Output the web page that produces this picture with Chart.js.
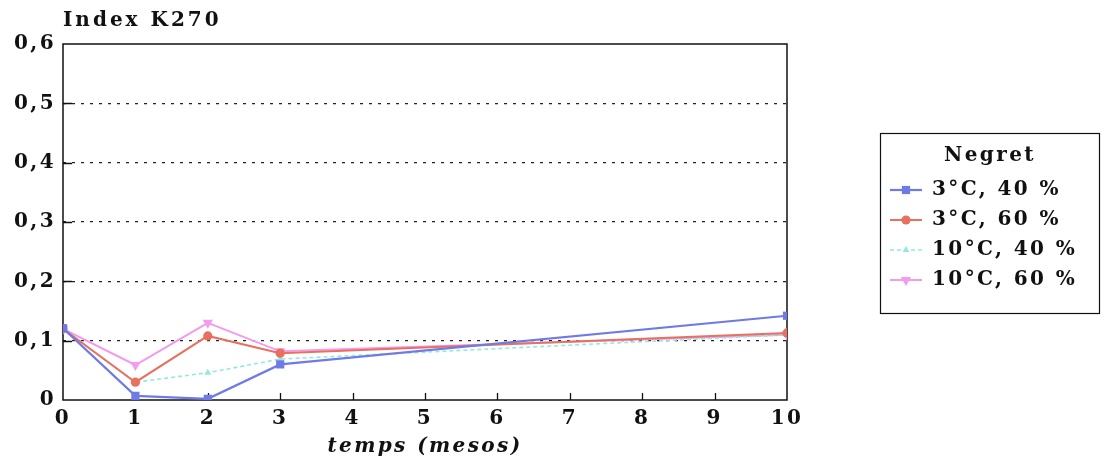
<!DOCTYPE html>
<html>
<head>
<meta charset="utf-8">
<title>Index K270 – Negret</title>
<script src="https://cdn.jsdelivr.net/npm/chart.js@4.4.1/dist/chart.umd.min.js"></script>
<style>
  html, body { margin: 0; padding: 0; background: #ffffff; }
  canvas { display: block; }
</style>
</head>
<body>
<canvas id="chart" width="1106" height="462"></canvas>
<script>
// Sampling times (months)
const months = [0, 1, 2, 3, 10];
const xTickLabels = ['0', '1', '2', '3', '4', '5', '6', '7', '8', '9', '10'];
const yTickLabels = ['0', '0,1', '0,2', '0,3', '0,4', '0,5', '0,6'];

// K270 index per storage condition
const seriesLabels = ['3°C, 40 %', '3°C, 60 %', '10°C, 40 %', '10°C, 60 %'];
const k270_3C_40 = [0.121, 0.007, 0.002, 0.060, 0.142];
const k270_3C_60 = [0.120, 0.030, 0.108, 0.079, 0.113];
const k270_10C_40 = [0.120, 0.030, 0.046, 0.069, 0.110];
const k270_10C_60 = [0.120, 0.059, 0.130, 0.082, 0.110];

const yAxisName = 'Index K270';
const xAxisName = 'temps (mesos)';
const legendTitle = 'Negret';

const seriesStyle = [
  { color: '#6e7be6', point: 'rect',     radius: 5.8, rotation: 0,   width: 2.2, dash: [] },
  { color: '#e8705f', point: 'circle',   radius: 4.6, rotation: 0,   width: 2,   dash: [] },
  { color: '#92eadb', point: 'triangle', radius: 4,   rotation: 0,   width: 1.6, dash: [4, 3] },
  { color: '#f29bef', point: 'triangle', radius: 6,   rotation: 180, width: 2,   dash: [] }
];

const SPACING = '2.4px';
const TITLE_SPACING = '3px';
const FONT_FAMILY = "'DejaVu Serif', serif";
const FONT_SIZE = 20;

// small line + marker swatch for each legend entry
function makeSwatch(st) {
  const c = document.createElement('canvas');
  c.width = 32; c.height = 14;
  const g = c.getContext('2d');
  const cx = 16, cy = 7;
  g.strokeStyle = st.color;
  g.lineWidth = st.width;
  g.setLineDash(st.dash);
  g.beginPath(); g.moveTo(0, cy); g.lineTo(32, cy); g.stroke();
  g.setLineDash([]);
  g.fillStyle = st.color;
  g.beginPath();
  if (st.point === 'rect') {
    const s = st.radius * Math.SQRT1_2;
    g.rect(cx - s, cy - s, 2 * s, 2 * s);
  } else if (st.point === 'circle') {
    g.arc(cx, cy, st.radius, 0, Math.PI * 2);
  } else {
    const r = st.radius, rot = st.rotation * Math.PI / 180;
    for (let k = 0; k < 3; k++) {
      const a = rot - Math.PI / 2 + k * 2 * Math.PI / 3;
      const px = cx + r * Math.cos(a), py = cy + r * Math.sin(a);
      if (k === 0) g.moveTo(px, py); else g.lineTo(px, py);
    }
    g.closePath();
  }
  g.fill();
  return c;
}
const swatches = seriesStyle.map(makeSwatch);

const seriesValues = [k270_3C_40, k270_3C_60, k270_10C_40, k270_10C_60];
const datasets = seriesValues.map((vals, i) => {
  const st = seriesStyle[i];
  return {
    label: seriesLabels[i],
    data: months.map((m, j) => ({ x: m, y: vals[j] })),
    borderColor: st.color,
    backgroundColor: st.color,
    borderWidth: st.width,
    borderDash: st.dash,
    pointStyle: st.point,
    pointRadius: st.radius,
    pointRotation: st.rotation,
    pointBorderWidth: 0,
    pointBackgroundColor: st.color,
    tension: 0,
    xAxisID: 'x',
    yAxisID: 'y'
  };
});

Chart.defaults.font.family = FONT_FAMILY;
Chart.defaults.font.size = FONT_SIZE;
Chart.defaults.font.weight = 'bold';
Chart.defaults.color = '#111';

function applySpacing(chart) {
  if (chart.ctx) chart.ctx.letterSpacing = SPACING;
}

const LEGEND_W = 220;

const layoutHelper = {
  id: 'layoutHelper',
  beforeUpdate(chart) {
    applySpacing(chart);
    const lg = chart.legend;
    if (lg && !lg._fixedWidth) {
      const orig = lg.fit;
      lg.fit = function () { orig.call(this); this.width = LEGEND_W; };
      lg._fixedWidth = true;
    }
  },
  beforeLayout(chart) { applySpacing(chart); },
  beforeDraw(chart) { applySpacing(chart); },
  beforeDatasetsDraw(chart) {
    // plot frame and inward tick marks
    const { ctx, chartArea: a, scales } = chart;
    ctx.save();
    ctx.strokeStyle = '#111';
    ctx.lineWidth = 1.5;
    ctx.setLineDash([]);
    ctx.strokeRect(a.left, a.top, a.right - a.left, a.bottom - a.top);
    ctx.lineWidth = 1.3;
    ctx.beginPath();
    scales.y.ticks.forEach((t, i) => {
      if (i === 0 || i === scales.y.ticks.length - 1) return;
      const py = Math.round(scales.y.getPixelForValue(t.value)) + 0.5;
      ctx.moveTo(a.left, py); ctx.lineTo(a.left + 9, py);
    });
    scales.x.ticks.forEach((t, i) => {
      if (i === 0 || i === scales.x.ticks.length - 1) return;
      const px = Math.round(scales.x.getPixelForValue(t.value)) + 0.5;
      ctx.moveTo(px, a.bottom); ctx.lineTo(px, a.bottom - 7);
    });
    ctx.stroke();
    ctx.restore();
  },
  afterDraw(chart) {
    const { ctx, chartArea: a } = chart;
    ctx.save();
    // y-axis name above the scale
    ctx.letterSpacing = TITLE_SPACING;
    ctx.fillStyle = '#111';
    ctx.font = 'bold ' + FONT_SIZE + 'px ' + FONT_FAMILY;
    ctx.textAlign = 'left';
    ctx.textBaseline = 'middle';
    ctx.fillText(yAxisName, a.left, a.top - 23);
    // legend frame
    const lg = chart.legend;
    const hb = lg.legendHitBoxes;
    if (hb && hb.length) {
      const first = hb[0], last = hb[hb.length - 1];
      const top = Math.round(first.top + first.height / 2 - 57) + 0.5;
      const bottom = Math.round(last.top + last.height / 2 + 33) + 0.5;
      ctx.strokeStyle = '#111';
      ctx.lineWidth = 1.2;
      ctx.strokeRect(Math.round(lg.left) + 0.5, top, Math.round(lg.width) - 1, bottom - top);
    }
    ctx.restore();
  }
};

new Chart(document.getElementById('chart'), {
  type: 'line',
  data: { datasets },
  options: {
    responsive: false,
    animation: false,
    events: [],
    layout: { padding: { top: 44, right: 6, bottom: 0, left: 0 } },
    scales: {
      x: {
        type: 'linear',
        position: 'bottom',
        min: 0,
        max: 10,
        ticks: {
          stepSize: 1,
          autoSkip: false,
          maxRotation: 0,
          padding: 7,
          color: '#111',
          callback: (v, i) => xTickLabels[i]
        },
        grid: { display: false, drawTicks: false },
        border: { display: false },
        title: {
          display: true,
          text: xAxisName,
          color: '#111',
          font: { size: FONT_SIZE, weight: 'bold', style: 'italic' },
          padding: { top: 0, bottom: 3 }
        },
        afterFit(s) { s.height = 62; }
      },
      y: {
        type: 'linear',
        position: 'left',
        min: 0,
        max: 0.6,
        ticks: {
          stepSize: 0.1,
          padding: 7,
          color: '#111',
          callback: (v, i) => yTickLabels[i]
        },
        grid: {
          drawTicks: false,
          lineWidth: 1.2,
          color: (c) => (c.index === 0 || c.index === yTickLabels.length - 1) ? 'rgba(0,0,0,0)' : '#222'
        },
        border: { display: false, dash: [3, 6] },
        afterFit(s) { s.width = 63; }
      },
      gap: {
        type: 'linear',
        position: 'right',
        display: true,
        ticks: { display: false },
        grid: { display: false, drawTicks: false },
        border: { display: false },
        afterFit(s) { s.width = 93; }
      }
    },
    plugins: {
      title: { display: false },
      tooltip: { enabled: false },
      legend: {
        display: true,
        position: 'right',
        align: 'center',
        fullSize: false,
        title: {
          display: true,
          text: legendTitle,
          color: '#111',
          font: { size: FONT_SIZE, weight: 'bold' },
          padding: { top: 2, bottom: 0 }
        },
        labels: {
          usePointStyle: true,
          pointStyleWidth: 32,
          padding: 10,
          color: '#111',
          font: { size: FONT_SIZE, weight: 'bold' },
          generateLabels: (chart) => chart.data.datasets.map((ds, i) => ({
            text: ds.label,
            pointStyle: swatches[i],
            rotation: 0,
            fillStyle: ds.borderColor,
            strokeStyle: ds.borderColor,
            lineWidth: 0,
            hidden: false,
            datasetIndex: i,
            fontColor: '#111'
          }))
        }
      }
    }
  },
  plugins: [layoutHelper]
});
</script>
</body>
</html>
